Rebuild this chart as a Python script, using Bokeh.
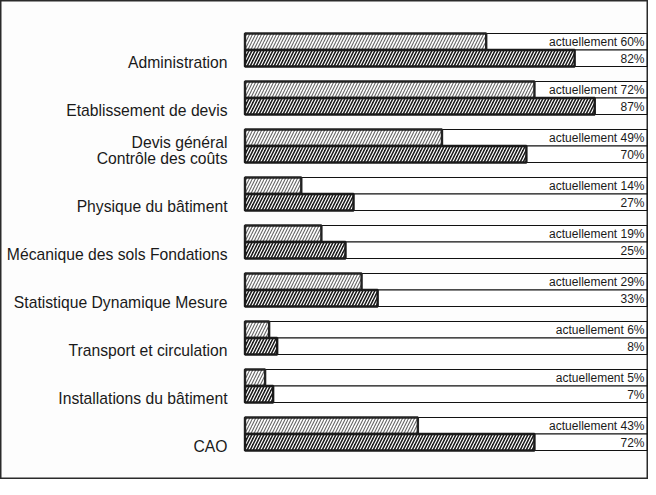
from bokeh.plotting import figure
from bokeh.models import ColumnDataSource, Range1d
from bokeh.core.properties import value
from bokeh.embed import file_html
from bokeh.resources import INLINE

categories = ["Administration", "Etablissement de devis", "Devis général\nContrôle des coûts",
              "Physique du bâtiment", "Mécanique des sols Fondations",
              "Statistique Dynamique Mesure", "Transport et circulation",
              "Installations du bâtiment", "CAO"]
current = [60, 72, 49, 14, 19, 29, 6, 5, 43]
future = [82, 87, 70, 27, 25, 33, 8, 7, 72]

W, H = 648, 479
PX0, PX100 = 252.5, 654.5          # page x of 0% and 100%
k = (PX100 - PX0) / 100.0
x_lo = (8 - PX0) / k
x_hi = (8 + W - PX0) / k

p = figure(width=W, height=H, output_backend="svg", toolbar_location=None,
           x_range=Range1d(x_lo, x_hi), y_range=Range1d(8 + H, 8),
           min_border=0)
p.axis.visible = False
p.grid.visible = False
p.background_fill_color = "#fdfdfd"
p.border_fill_color = "#fdfdfd"
p.outline_line_color = "#2a2a2a"
p.outline_line_width = 2

n = len(categories)
top0, step, bh = 41.0, 48.0, 16.5
tops = [top0 + step * i for i in range(n)]

# outline boxes (0..100%)
box = ColumnDataSource(dict(
    top=[t for t in tops] + [t + bh for t in tops],
    bottom=[t + bh for t in tops] + [t + 2 * bh for t in tops],
))
p.quad(left=0, right=100, top="top", bottom="bottom", source=box,
       fill_color="white", line_color="#111", line_width=1.2)

cur = ColumnDataSource(dict(right=current, top=tops, bottom=[t + bh for t in tops]))
fut = ColumnDataSource(dict(right=future, top=[t + bh for t in tops],
                            bottom=[t + 2 * bh for t in tops]))
p.quad(left=0, right="right", top="top", bottom="bottom", source=cur,
       fill_color="white", line_color="#222", line_width=2.4,
       hatch_pattern="/", hatch_color="#666666", hatch_weight=1.1, hatch_scale=6)
p.quad(left=0, right="right", top="top", bottom="bottom", source=fut,
       fill_color="#1a1a1a", line_color="#1a1a1a", line_width=2.4,
       hatch_pattern="/", hatch_color="#ffffff", hatch_weight=1.2, hatch_scale=6)

# value labels
xr = 100 - 2.5 / k
p.text(x=[xr] * n, y=[t + bh / 2 + 0.5 for t in tops],
       text=["actuellement %d%%" % v for v in current],
       text_align="right", text_baseline="middle",
       text_font=value("Liberation Sans"), text_font_size="12px", text_color="#1a1a1a")
p.text(x=[xr] * n, y=[t + 1.5 * bh + 0.5 for t in tops],
       text=["%d%%" % v for v in future],
       text_align="right", text_baseline="middle",
       text_font=value("Liberation Sans"), text_font_size="12px", text_color="#1a1a1a")

# category labels
lx, ly, ltext = [], [], []
xl = (235 - PX0) / k
for t, c in zip(tops, categories):
    lines = c.split("\n")
    for j, line in enumerate(lines):
        lx.append(xl)
        ly.append(t + 29 - 16 * (len(lines) - 1 - j))
        ltext.append(line)
p.text(x=lx, y=ly, text=ltext, text_align="right", text_baseline="middle",
       text_font=value("Liberation Sans"), text_font_size="15.7px", text_color="#1a1a1a")

open("out.html", "w").write(file_html(p, INLINE))
